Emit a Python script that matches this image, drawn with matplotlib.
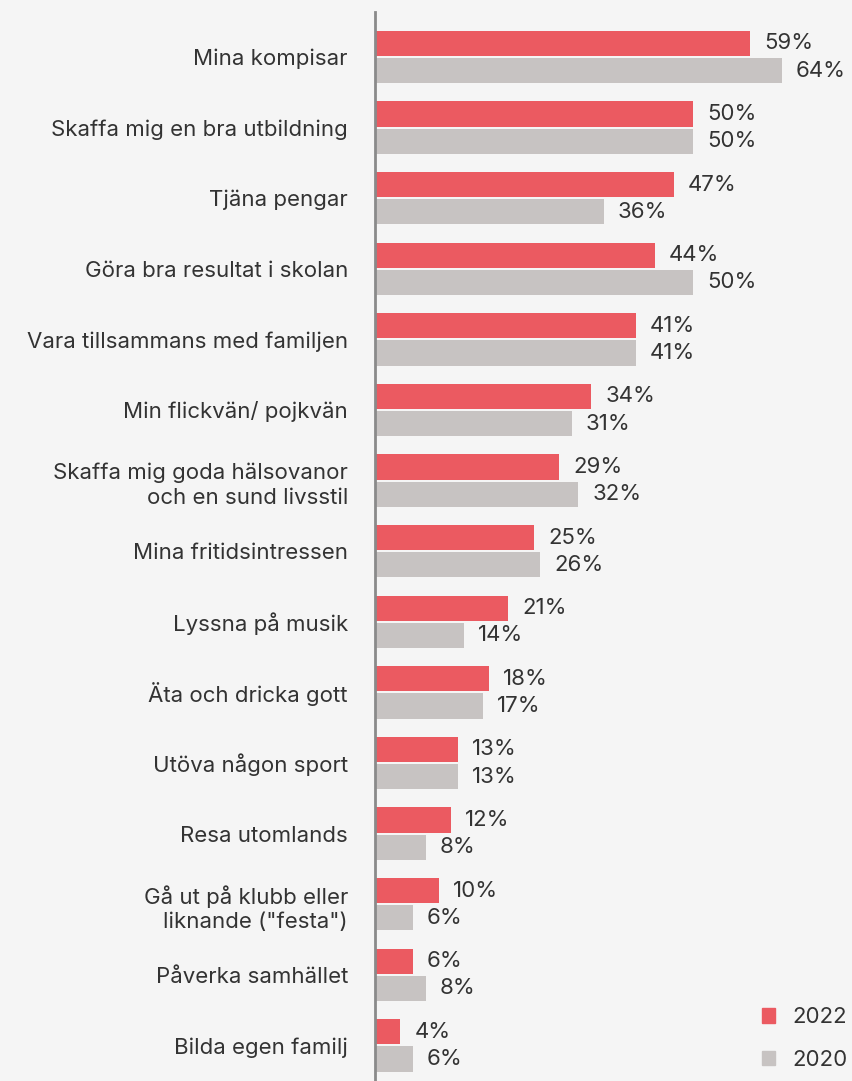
import numpy as np
import matplotlib.pyplot as plt
from matplotlib.patches import Patch

categories = [
    'Mina kompisar',
    'Skaffa mig en bra utbildning',
    'Tjäna pengar',
    'Göra bra resultat i skolan',
    'Vara tillsammans med familjen',
    'Min flickvän/ pojkvän',
    'Skaffa mig goda hälsovanor\noch en sund livsstil',
    'Mina fritidsintressen',
    'Lyssna på musik',
    'Äta och dricka gott',
    'Utöva någon sport',
    'Resa utomlands',
    'Gå ut på klubb eller\nliknande ("festa")',
    'Påverka samhället',
    'Bilda egen familj',
]
values_2022 = [59, 50, 47, 44, 41, 34, 29, 25, 21, 18, 13, 12, 10, 6, 4]
values_2020 = [64, 50, 36, 50, 41, 31, 32, 26, 14, 17, 13, 8, 6, 8, 6]

red = '#eb5a61'
grey = '#c7c3c2'
bg = '#f5f5f5'
txt = '#333333'
fs = 16

plt.rcParams['font.family'] = ['Inter', 'DejaVu Sans']

fig = plt.figure(figsize=(8.53, 10.81), dpi=100, facecolor=bg)
ax = fig.add_axes([375 / 853, 0, 478 / 853, 1069 / 1081], facecolor=bg)

y = np.arange(len(categories))
h = 0.355
off = h / 2 + 0.015
ax.barh(y - off, values_2022, height=h, color=red, label='2022')
ax.barh(y + off, values_2020, height=h, color=grey, label='2020')

for i in range(len(categories)):
    ax.text(values_2022[i] + 2.2, y[i] - off, f'{values_2022[i]}%',
            va='center', ha='left', fontsize=fs, color=txt)
    ax.text(values_2020[i] + 2.2, y[i] + off, f'{values_2020[i]}%',
            va='center', ha='left', fontsize=fs, color=txt)

ax.set_xlim(0, 75.2)
ax.set_ylim(14.504, -0.637)
ax.set_yticks(y)
ax.set_yticklabels(categories, fontsize=fs, color=txt, ha='right',
                   linespacing=1.3)
ax.tick_params(axis='y', length=0, pad=19.5)
ax.set_xticks([])

for s in ['top', 'right', 'bottom']:
    ax.spines[s].set_visible(False)
ax.spines['left'].set_color('#8a8a8a')
ax.spines['left'].set_linewidth(2)

handles = [Patch(color=red, label='2022'), Patch(color=grey, label='2020')]
ax.legend(handles=handles, loc='lower right', frameon=False, fontsize=fs,
          handlelength=0.6, handleheight=0.6, handletextpad=0.75,
          labelspacing=1.0, bbox_to_anchor=(1.03, -0.008), labelcolor=txt)

fig.savefig('out.png', dpi=100, facecolor=bg)
